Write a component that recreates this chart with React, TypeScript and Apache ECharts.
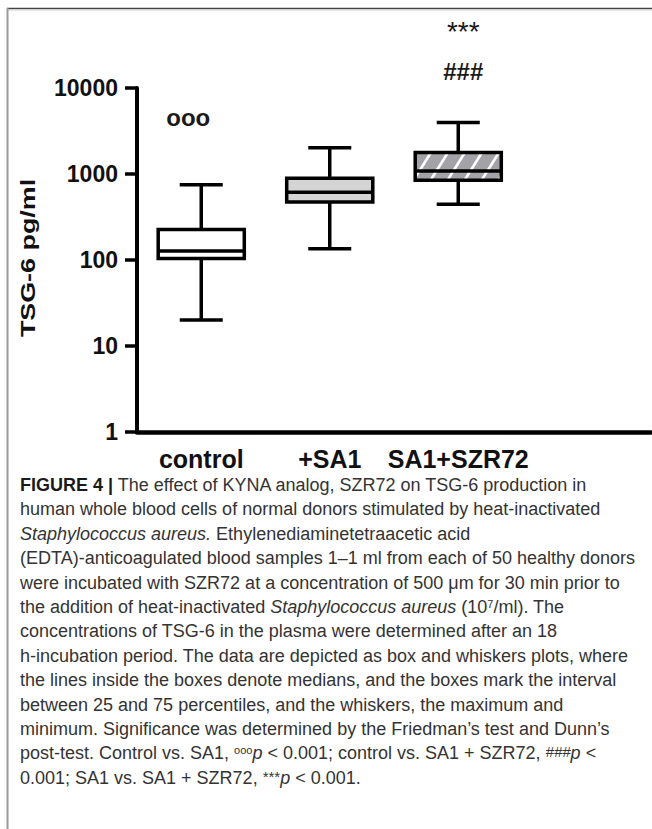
import React, { useEffect, useRef } from "react";
import * as echarts from "echarts";

// ---- data ----
const categories = ["control", "+SA1", "SA1+SZR72"];
const whiskerMin = [20, 135, 444];
const q1Values = [104, 472, 845];
const medianValues = [127, 613, 1084];
const q3Values = [227, 891, 1776];
const whiskerMax = [752, 2023, 3975];
const yTickValues = [1, 10, 100, 1000, 10000];
const markCategory = [0, 2, 2];
const markValue = [4560, 15700, 45000];
const markText = ["ooo", "###", "***"];

const captionLines = [
  "{b|FIGURE 4 |} The effect of KYNA analog, SZR72 on TSG-6 production in",
  "human whole blood cells of normal donors stimulated by heat-inactivated",
  "{i|Staphylococcus aureus.} Ethylenediaminetetraacetic acid",
  "(EDTA)-anticoagulated blood samples 1–1 ml from each of 50 healthy donors",
  "were incubated with SZR72 at a concentration of 500 μm for 30 min prior to",
  "the addition of heat-inactivated {i|Staphylococcus aureus} (10{sup|7}/ml). The",
  "concentrations of TSG-6 in the plasma were determined after an 18",
  "h-incubation period. The data are depicted as box and whiskers plots, where",
  "the lines inside the boxes denote medians, and the boxes mark the interval",
  "between 25 and 75 percentiles, and the whiskers, the maximum and",
  "minimum. Significance was determined by the Friedman’s test and Dunn’s",
  "post-test. Control vs. SA1, {sup|ooo}{i|p} < 0.001; control vs. SA1 + SZR72, {supi|###}{i|p} <",
  "0.001; SA1 vs. SA1 + SZR72, {star|***}{i|p} < 0.001.",
];

const FONT = '"Liberation Sans", Arial, Helvetica, sans-serif';

function makeHatch() {
  const W = 17;
  const H = 27;
  const c = document.createElement("canvas");
  c.width = W;
  c.height = H;
  const ctx = c.getContext("2d");
  if (ctx) {
    ctx.fillStyle = "#a2a2a7";
    ctx.fillRect(0, 0, W, H);
    ctx.strokeStyle = "#ffffff";
    ctx.lineWidth = 2.6;
    for (let k = -2; k <= 2; k++) {
      ctx.beginPath();
      ctx.moveTo(k * W - W, 2 * H);
      ctx.lineTo(k * W + 2 * W, -H);
      ctx.stroke();
    }
  }
  return { image: c, repeat: "repeat", imageWidth: W, imageHeight: H };
}

export default function App() {
  const ref = useRef<HTMLDivElement>(null);
  useEffect(() => {
    if (!ref.current) return;
    document.body.style.margin = "0";
    const chart = echarts.init(ref.current, undefined, { renderer: "svg" });
    const hatch = makeHatch();
    const fills: any[] = ["#ffffff", "#d4d4d4", hatch];

    const boxData = categories.map((_, i) => [
      i,
      whiskerMin[i],
      q1Values[i],
      medianValues[i],
      q3Values[i],
      whiskerMax[i],
    ]);
    const markData = markText.map((_, i) => [markCategory[i], markValue[i], i]);

    const lineW = 3.5;
    const stroke = "#000";

    const captionTop = 485;
    const captionStep = 24.4;
    const capFont = 18;
    const rich = {
      b: { fontFamily: FONT, fontSize: capFont, fontWeight: "bold", fill: "#1a1a1a" },
      i: { fontFamily: FONT, fontSize: capFont, fontStyle: "italic", fill: "#333" },
      sup: { fontFamily: FONT, fontSize: 11, fill: "#333", verticalAlign: "top" },
      supi: { fontFamily: FONT, fontSize: 15, fontStyle: "italic", fill: "#333", verticalAlign: "top" },
      star: { fontFamily: FONT, fontSize: 15, fill: "#333", verticalAlign: "top" },
    };

    const captionGraphics = captionLines.map((t, i) => ({
      type: "text",
      x: 20,
      y: captionTop + i * captionStep,
      style: {
        text: t,
        fontFamily: FONT,
        fontSize: capFont,
        fill: "#333",
        verticalAlign: "middle",
        align: "left",
        rich,
      },
    }));

    const option: any = {
      animation: false,
      backgroundColor: "#ffffff",
      grid: {
        left: 137,
        right: 1,
        top: 88,
        bottom: 829 - 432,
        containLabel: false,
        outerBoundsMode: "none",
      },
      xAxis: {
        type: "category",
        data: [...categories, ""],
        boundaryGap: true,
        axisLine: { show: true, lineStyle: { color: "#000", width: 4.5 } },
        axisTick: { show: false },
        splitLine: { show: false },
        axisLabel: {
          interval: 0,
          color: "#111",
          fontFamily: FONT,
          fontWeight: "bold",
          fontSize: 25,
          margin: 14,
        },
      },
      yAxis: {
        type: "log",
        logBase: 10,
        min: yTickValues[0],
        max: yTickValues[yTickValues.length - 1],
        axisLine: { show: true, lineStyle: { color: "#000", width: 4 } },
        axisTick: { show: true, length: 12, lineStyle: { color: "#000", width: 3.5 } },
        splitLine: { show: false },
        axisLabel: {
          color: "#111",
          fontFamily: FONT,
          fontWeight: "bold",
          fontSize: 23,
          margin: 19,
          formatter: (v: number) => String(Math.round(v)),
        },
      },
      series: [
        {
          type: "custom",
          data: boxData,
          encode: { x: 0, y: [1, 2, 3, 4, 5] },
          clip: false,
          renderItem: (params: any, api: any) => {
            const idx = api.value(0);
            const pMin = api.coord([idx, api.value(1)]);
            const pQ1 = api.coord([idx, api.value(2)]);
            const pMed = api.coord([idx, api.value(3)]);
            const pQ3 = api.coord([idx, api.value(4)]);
            const pMax = api.coord([idx, api.value(5)]);
            const band = api.size([1, 0])[0];
            const boxW = band * 0.67;
            const capW = band * 0.335;
            const cx = pMin[0];
            const ls = { stroke, lineWidth: lineW };
            return {
              type: "group",
              children: [
                { type: "line", shape: { x1: cx, y1: pMax[1], x2: cx, y2: pQ3[1] }, style: ls },
                { type: "line", shape: { x1: cx, y1: pQ1[1], x2: cx, y2: pMin[1] }, style: ls },
                { type: "line", shape: { x1: cx - capW / 2, y1: pMax[1], x2: cx + capW / 2, y2: pMax[1] }, style: ls },
                { type: "line", shape: { x1: cx - capW / 2, y1: pMin[1], x2: cx + capW / 2, y2: pMin[1] }, style: ls },
                {
                  type: "rect",
                  shape: { x: cx - boxW / 2, y: pQ3[1], width: boxW, height: pQ1[1] - pQ3[1] },
                  style: { fill: fills[idx], stroke, lineWidth: lineW },
                },
                { type: "line", shape: { x1: cx - boxW / 2, y1: pMed[1], x2: cx + boxW / 2, y2: pMed[1] }, style: ls },
              ],
            };
          },
        },
        {
          type: "custom",
          data: markData,
          encode: { x: 0, y: 1 },
          clip: false,
          renderItem: (params: any, api: any) => {
            const k = api.value(2);
            const p = api.coord([api.value(0), api.value(1)]);
            const dx = k === 0 ? -13 : 5;
            const isStar = markText[k] === "***";
            return {
              type: "text",
              x: p[0] + dx,
              y: p[1],
              style: {
                text: markText[k],
                fontFamily: FONT,
                fontWeight: isStar ? "normal" : "bold",
                fontSize: isStar ? 28 : 24,
                fill: "#1a1a1a",
                align: "center",
                verticalAlign: "middle",
              },
            };
          },
        },
      ],
      graphic: [
        { type: "line", shape: { x1: 7, y1: 8.5, x2: 652, y2: 8.5 }, style: { stroke: "#444", lineWidth: 1.5 } },
        { type: "line", shape: { x1: 7, y1: 10, x2: 652, y2: 10 }, style: { stroke: "#cfcfcf", lineWidth: 1 } },
        { type: "line", shape: { x1: 7.5, y1: 8, x2: 7.5, y2: 829 }, style: { stroke: "#9a9a9a", lineWidth: 2 } },
        {
          type: "text",
          x: 28,
          y: 258,
          rotation: Math.PI / 2,
          scaleX: 1.28,
          style: {
            text: "TSG-6 pg/ml",
            fontFamily: FONT,
            fontWeight: "bold",
            fontSize: 21,
            fill: "#111",
            align: "center",
            verticalAlign: "middle",
          },
        },
        ...captionGraphics,
      ],
    };
    chart.setOption(option);
    return () => {
      chart.dispose();
    };
  }, []);
  return (
    <div
      ref={ref}
      style={{ position: "absolute", left: 0, top: 0, width: 652, height: 829, background: "#fff" }}
    />
  );
}
